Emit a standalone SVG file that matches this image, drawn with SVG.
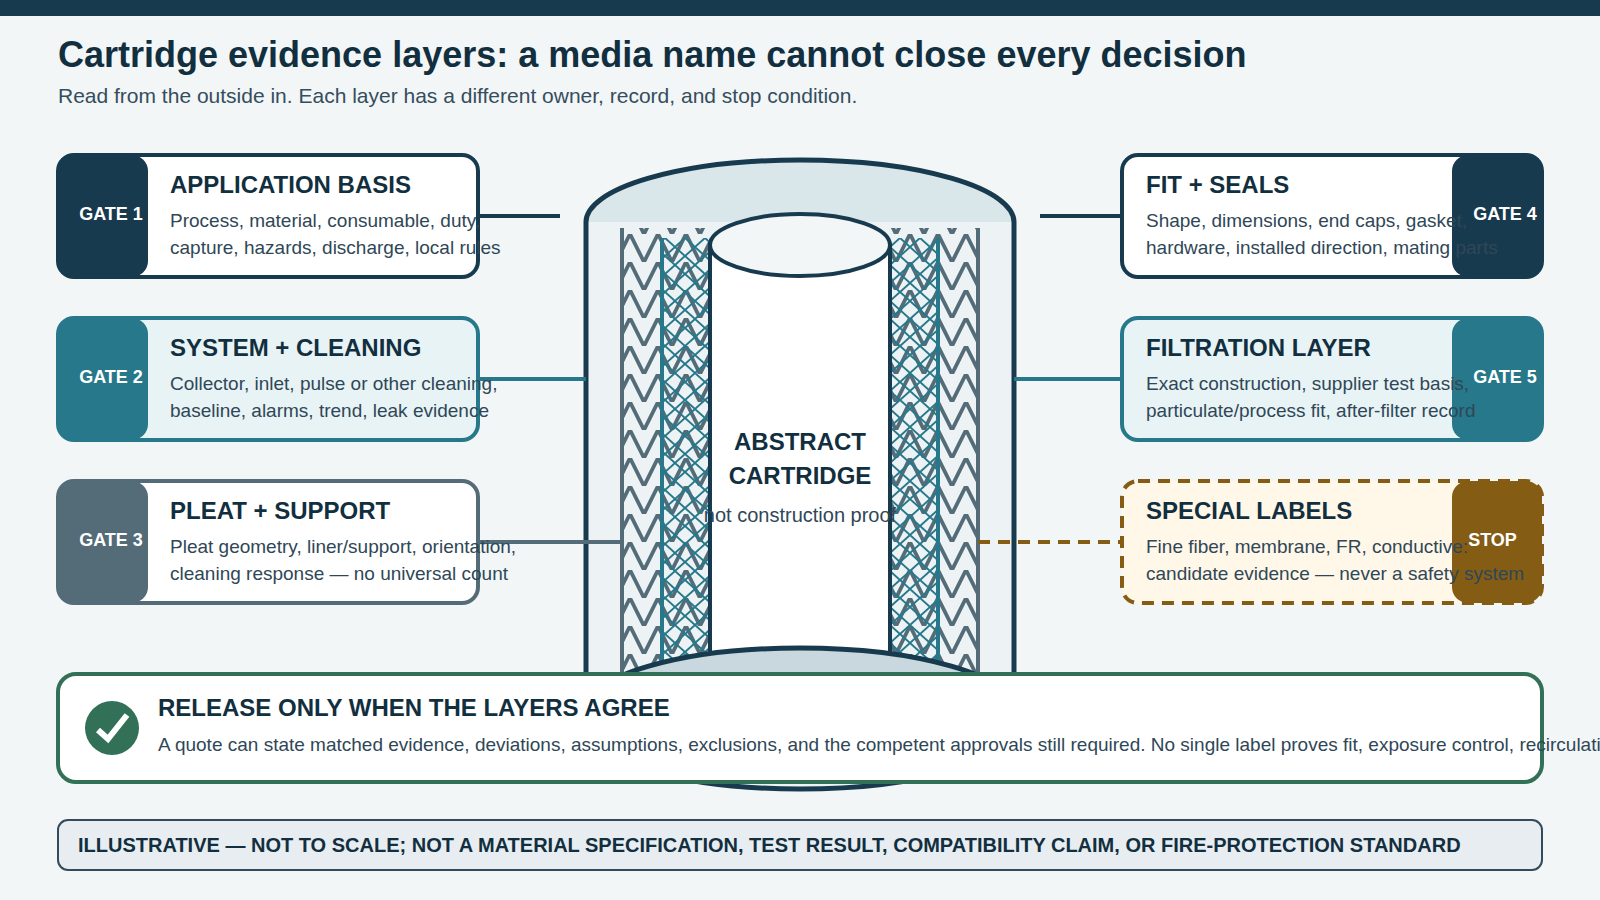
<svg xmlns="http://www.w3.org/2000/svg" width="1600" height="900" viewBox="0 0 1600 900">
  <style>
    text { font-family: "Liberation Sans", Arial, sans-serif; }
    .h { font-size: 24px; font-weight: 700; fill: #122f40; }
    .b { font-size: 19px; fill: #2f4757; }
    .g { font-size: 18px; font-weight: 700; fill: #ffffff; text-anchor: middle; }
    .card { stroke-width: 4; }
    .wire { stroke-width: 4; fill: none; }
    .wall { stroke: #183a4e; stroke-width: 5; fill: none; }
  </style>
  <defs>
    <!-- pleat zigzag and synthetic mesh tiles -->
    <pattern id="pleat" patternUnits="userSpaceOnUse" x="0" y="10" width="28" height="28">
      <path d="M0 28 L14 0 L28 28" fill="none" stroke="#546b78" stroke-width="3.8"/>
    </pattern>
    <pattern id="meshL" patternUnits="userSpaceOnUse" x="5" y="238" width="20" height="18">
      <path d="M0 0 L20 18 M20 0 L0 18" fill="none" stroke="#26788a" stroke-width="2"/>
    </pattern>
    <pattern id="meshR" patternUnits="userSpaceOnUse" x="0" y="238" width="20" height="18">
      <path d="M0 0 L20 18 M20 0 L0 18" fill="none" stroke="#26788a" stroke-width="2"/>
    </pattern>
  </defs>

  <rect width="1600" height="900" fill="#f2f6f7"/>
  <rect width="1600" height="16" fill="#183a4e"/>

  <text x="58" y="67" font-size="36" font-weight="700" fill="#122f40">Cartridge evidence layers: a media name cannot close every decision</text>
  <text x="58" y="103" font-size="21" fill="#354d5d">Read from the outside in. Each layer has a different owner, record, and stop condition.</text>

  <g id="cartridge">
    <path d="M586 222 V727 A214 62 0 0 0 1014 727 V222 Z" fill="#edf3f5"/>
    <path d="M586 222 A214 62 0 0 1 1014 222 Z" fill="#d9e6ea"/>
    <rect x="622" y="228" width="88" height="450" fill="url(#pleat)"/>
    <rect x="890" y="228" width="88" height="450" fill="url(#pleat)"/>
    <rect x="664" y="238" width="46" height="440" fill="url(#meshL)"/>
    <rect x="890" y="238" width="48" height="440" fill="url(#meshR)"/>
    <path d="M622 228 V680 M978 228 V680" stroke="#546b78" stroke-width="4" fill="none"/>
    <path d="M662 238 V680 M938 238 V680" stroke="#26788a" stroke-width="4" fill="none"/>
    <rect x="710" y="245" width="180" height="470" fill="#ffffff" stroke="#183a4e" stroke-width="4"/>
    <ellipse cx="800" cy="245" rx="90" ry="31" fill="#f2f6f7" stroke="#183a4e" stroke-width="4"/>
    <ellipse cx="800" cy="710" rx="214" ry="62" fill="#c8d8de" stroke="#183a4e" stroke-width="5"/>
    <path class="wall" d="M586 727 V222 A214 62 0 0 1 1014 222 V727 A214 62 0 0 1 586 727"/>
    <text x="800" y="450" text-anchor="middle" font-size="24" font-weight="700" fill="#122f40">ABSTRACT</text>
    <text x="800" y="484" text-anchor="middle" font-size="24" font-weight="700" fill="#122f40">CARTRIDGE</text>
    <text x="800" y="522" text-anchor="middle" font-size="20" fill="#2f4757">not construction proof</text>
  </g>

  <g id="connectors">
    <path class="wire" stroke="#183a4e" d="M480 216 H560"/>
    <path class="wire" stroke="#26788a" d="M480 379 H586"/>
    <path class="wire" stroke="#546b78" d="M480 542 H622"/>
    <path class="wire" stroke="#183a4e" d="M1040 216 H1120"/>
    <path class="wire" stroke="#26788a" d="M1014 379 H1120"/>
    <path class="wire" stroke="#845c14" stroke-dasharray="12 8" d="M978 542 H1120"/>
  </g>

  <g id="gate1">
    <rect class="card" x="58" y="155" width="420" height="122" rx="16" fill="#ffffff" stroke="#183a4e"/>
    <rect x="58" y="155" width="90" height="122" rx="16" fill="#183a4e"/>
    <text class="g" x="111" y="220">GATE 1</text>
    <text class="h" x="170" y="193">APPLICATION BASIS</text>
    <text class="b" x="170" y="227">Process, material, consumable, duty,</text>
    <text class="b" x="170" y="254">capture, hazards, discharge, local rules</text>
  </g>
  <g id="gate2">
    <rect class="card" x="58" y="318" width="420" height="122" rx="16" fill="#e8f3f5" stroke="#26788a"/>
    <rect x="58" y="318" width="90" height="122" rx="16" fill="#26788a"/>
    <text class="g" x="111" y="383">GATE 2</text>
    <text class="h" x="170" y="356">SYSTEM + CLEANING</text>
    <text class="b" x="170" y="390">Collector, inlet, pulse or other cleaning,</text>
    <text class="b" x="170" y="417">baseline, alarms, trend, leak evidence</text>
  </g>
  <g id="gate3">
    <rect class="card" x="58" y="481" width="420" height="122" rx="16" fill="#ffffff" stroke="#546b78"/>
    <rect x="58" y="481" width="90" height="122" rx="16" fill="#546b78"/>
    <text class="g" x="111" y="546">GATE 3</text>
    <text class="h" x="170" y="519">PLEAT + SUPPORT</text>
    <text class="b" x="170" y="553">Pleat geometry, liner/support, orientation,</text>
    <text class="b" x="170" y="580">cleaning response — no universal count</text>
  </g>
  <g id="gate4">
    <rect class="card" x="1122" y="155" width="420" height="122" rx="16" fill="#ffffff" stroke="#183a4e"/>
    <rect x="1452" y="155" width="90" height="122" rx="16" fill="#183a4e"/>
    <text class="g" x="1505" y="220">GATE 4</text>
    <text class="h" x="1146" y="193">FIT + SEALS</text>
    <text class="b" x="1146" y="227">Shape, dimensions, end caps, gasket,</text>
    <text class="b" x="1146" y="254">hardware, installed direction, mating parts</text>
  </g>
  <g id="gate5">
    <rect class="card" x="1122" y="318" width="420" height="122" rx="16" fill="#e8f3f5" stroke="#26788a"/>
    <rect x="1452" y="318" width="90" height="122" rx="16" fill="#26788a"/>
    <text class="g" x="1505" y="383">GATE 5</text>
    <text class="h" x="1146" y="356">FILTRATION LAYER</text>
    <text class="b" x="1146" y="390">Exact construction, supplier test basis,</text>
    <text class="b" x="1146" y="417">particulate/process fit, after-filter record</text>
  </g>
  <g id="stop">
    <rect class="card" x="1122" y="481" width="420" height="122" rx="16" fill="#fff7e8" stroke="#845c14" stroke-dasharray="12 8"/>
    <rect x="1452" y="481" width="90" height="122" rx="16" fill="#845c14"/>
    <text class="g" x="1492.5" y="546">STOP</text>
    <text class="h" x="1146" y="519">SPECIAL LABELS</text>
    <text class="b" x="1146" y="553">Fine fiber, membrane, FR, conductive:</text>
    <text class="b" x="1146" y="580">candidate evidence — never a safety system</text>
  </g>

  <g id="release">
    <rect x="58" y="674" width="1484" height="108" rx="18" fill="#ffffff" stroke="#327058" stroke-width="4"/>
    <circle cx="112" cy="728" r="27" fill="#327058"/>
    <path d="M98 730 L108 739 L127 715" fill="none" stroke="#ffffff" stroke-width="6"/>
    <text x="158" y="716" font-size="24" font-weight="700" fill="#122f40">RELEASE ONLY WHEN THE LAYERS AGREE</text>
    <text x="158" y="751" font-size="19" fill="#2f4757">A quote can state matched evidence, deviations, assumptions, exclusions, and the competent approvals still required. No single label proves fit, exposure control, recirculation</text>
  </g>

  <g id="footnote">
    <rect x="58" y="820" width="1484" height="50" rx="10" fill="#e8edf1" stroke="#34495c" stroke-width="2"/>
    <text x="78" y="852" font-size="20" font-weight="700" fill="#122f40">ILLUSTRATIVE — NOT TO SCALE; NOT A MATERIAL SPECIFICATION, TEST RESULT, COMPATIBILITY CLAIM, OR FIRE-PROTECTION STANDARD</text>
  </g>
</svg>
